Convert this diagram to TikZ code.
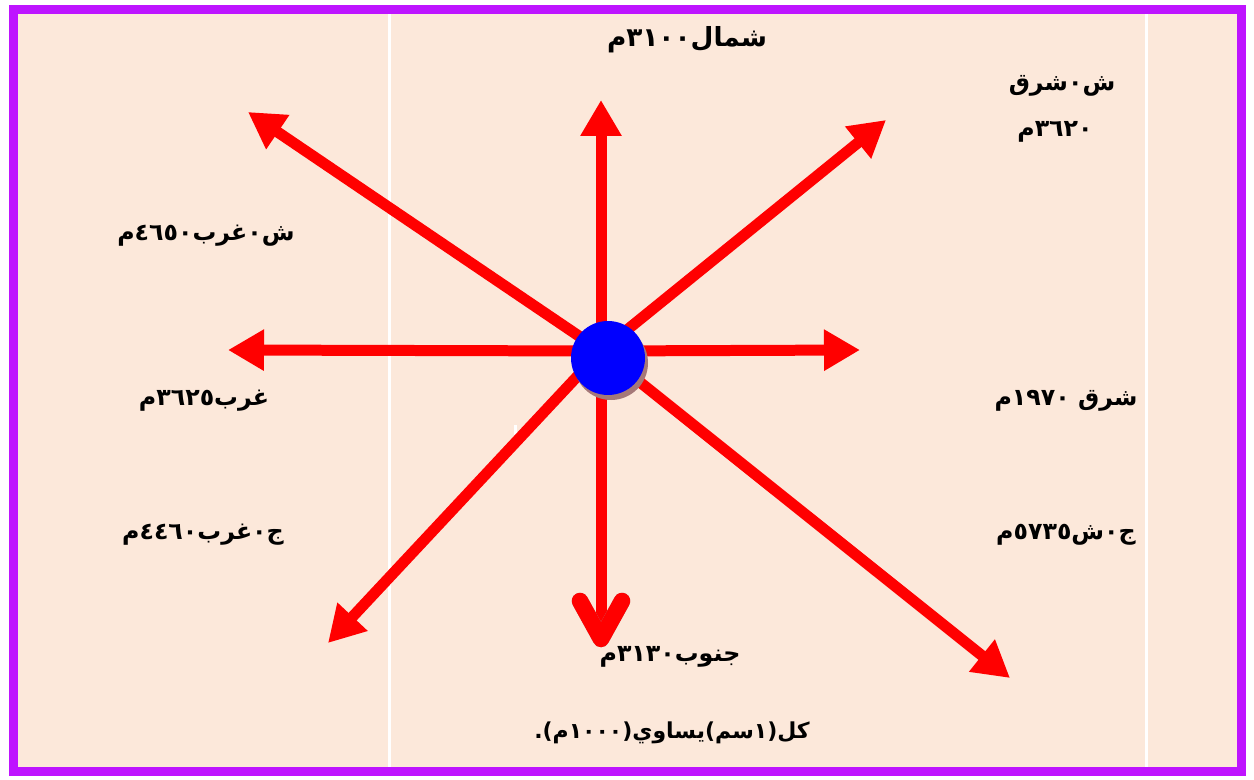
\documentclass[tikz,border=0pt]{standalone}
\usepackage{fontspec}
\newfontfamily\arabicfont[Script=Arabic]{DejaVu Sans}
\TeXXeTstate=1
\usetikzlibrary{arrows.meta}
\definecolor{peach}{RGB}{252,232,218}
\definecolor{framecol}{RGB}{190,20,255}
\definecolor{arrowred}{RGB}{255,0,0}
\definecolor{dotblue}{RGB}{0,0,255}
\definecolor{shadecol}{RGB}{165,120,120}
\begin{document}
\begin{tikzpicture}[x=0.02cm,y=-0.02cm,
  dirarrow/.style={draw=arrowred, line width=0.22cm, -{Triangle[width=0.78cm,length=0.72cm]}},
  lbl/.style={font=\arabicfont\bfseries\fontsize{13.5}{16}\selectfont, inner sep=0pt, text=black},
  biglbl/.style={lbl, font=\arabicfont\bfseries\fontsize{15}{18}\selectfont}]
\useasboundingbox (0,0) rectangle (1254,780);
% background and frame
\fill[peach] (13,9) rectangle (1242,772);
\fill[white] (388,13) rectangle (391,768);
\fill[white] (1145,13) rectangle (1148,768);
\fill[white] (514,425) rectangle (517,446);
\draw[framecol, line width=0.18cm] (13.5,9.5) rectangle (1241.5,771.5);
% coordinates
\coordinate (o) at (601,351);
\coordinate (tn) at (601,100);
\coordinate (tne) at (886,120);
\coordinate (tnw) at (248,112);
\coordinate (te) at (860,350);
\coordinate (tw) at (228,350);
\coordinate (tsw) at (328,643);
\coordinate (tse) at (1010,678);
\coordinate (ts) at (601,628);
% arrows
\draw[dirarrow] (o) -- (tn);
\draw[dirarrow] (o) -- (tne);
\draw[dirarrow] (o) -- (tnw);
\draw[dirarrow] (o) -- (te);
\draw[dirarrow] (o) -- (tw);
\draw[dirarrow] (o) -- (tsw);
\draw[dirarrow] (o) -- (tse);
% south arrow with rounded head
\draw[arrowred, line width=0.22cm] (o) -- (ts);
\coordinate (sl) at (580,601);
\coordinate (sv) at (601,639);
\coordinate (sr) at (622,601);
\draw[gray!75, line width=0.33cm, line cap=round, line join=round, shift={(2,3)}] (sl) -- (sv) -- (sr);
\draw[arrowred, line width=0.33cm, line cap=round, line join=round] (sl) -- (sv) -- (sr);
% hub
\fill[shadecol] (611,363) circle (37);
\node[circle, fill=dotblue, inner sep=0pt, minimum size=1.48cm] (hub) at (608,358) {};
% labels
\node[biglbl] (ln) at (687,40) {\beginR شمال٣١٠٠م\endR};
\node[lbl] (lne1) at (1062,86) {\beginR ش٠شرق\endR};
\node[lbl] (lne2) at (1055,132) {\beginR ٣٦٢٠م\endR};
\node[lbl] (lnw) at (206,236) {\beginR ش٠غرب٤٦٥٠م\endR};
\node[lbl] (lw) at (204,401) {\beginR غرب٣٦٢٥م\endR};
\node[lbl] (le) at (1066,401) {\beginR شرق ١٩٧٠م\endR};
\node[lbl] (lsw) at (203,535) {\beginR ج٠غرب٤٤٦٠م\endR};
\node[lbl] (lse) at (1066,535) {\beginR ج٠ش٥٧٣٥م\endR};
\node[lbl] (ls) at (670,657) {\beginR جنوب٣١٣٠م\endR};
\node[lbl, font=\arabicfont\bfseries\fontsize{12.5}{15}\selectfont] (lscale) at (672,733) {\beginR كل(١سم)يساوي(١٠٠٠م).\endR};
\end{tikzpicture}
\end{document}
